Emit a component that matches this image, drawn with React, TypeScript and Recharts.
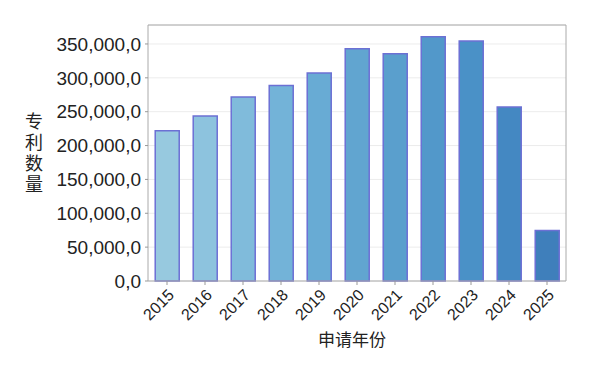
import React from 'react';
import { BarChart, Bar, XAxis, YAxis, CartesianGrid, Cell, Label } from 'recharts';

const years: string[] = ['2015', '2016', '2017', '2018', '2019', '2020', '2021', '2022', '2023', '2024', '2025'];
const patentCounts: number[] = [222000, 243500, 271800, 288500, 307000, 343000, 335500, 360500, 354500, 257000, 74500];
const yTicks: number[] = [0, 50000, 100000, 150000, 200000, 250000, 300000, 350000];

const barColors = [
  '#97c9df', '#8dc3de', '#80bbdb', '#73b3d8', '#68abd4', '#61a5d0',
  '#5a9fcd', '#5298ca', '#4a91c7', '#4488c2', '#3f7fbb',
];

const FONT = '"Liberation Sans", Arial, "Noto Sans CJK SC", sans-serif';
const CJK = '"Noto Sans CJK SC", sans-serif';

const data = years.map((year, i) => ({ year, count: patentCounts[i] }));

// 0,0 / 350,000,0 style labels
const fmt = (v: number) => v.toLocaleString('en-US') + ',0';

// stacked CJK title, one text in vertical writing mode
const VerticalLabel = ({ viewBox }: any) => {
  const cy = viewBox.y + viewBox.height / 2;
  return (
    <text
      x={34}
      y={cy + 1}
      textAnchor="middle"
      fontFamily={CJK}
      fontSize={18}
      fill="#222"
      style={{ writingMode: 'vertical-rl', letterSpacing: 3 }}
    >
      专利数量
    </text>
  );
};

const App: React.FC = () => {
  return (
    <div style={{ position: 'absolute', left: 0, top: 0, width: 589, height: 373, background: '#fff' }}>
      <BarChart
        width={589}
        height={373}
        data={data}
        margin={{ top: 24, right: 22, bottom: 0, left: 0 }}
        barCategoryGap="19%"
      >
        <CartesianGrid vertical={false} stroke="#ececec" />
        <XAxis
          dataKey="year"
          height={92}
          interval={0}
          tickLine={{ stroke: '#999' }}
          tickSize={4}
          tickMargin={3}
          axisLine={{ stroke: '#aaa' }}
          angle={-45}
          textAnchor="end"
          tick={{ fontSize: 16, fill: '#222', fontFamily: FONT }}
        >
          <Label
            value="申请年份"
            position="insideBottom"
            offset={27}
            dx={-5}
            style={{ fontSize: 17, fill: '#222', fontFamily: CJK }}
          />
        </XAxis>
        <XAxis xAxisId="top" orientation="top" dataKey="year" height={1} tick={false} tickLine={false} axisLine={{ stroke: '#aaa' }} />
        <YAxis
          width={148}
          domain={[0, 378000]}
          ticks={yTicks}
          tickFormatter={fmt}
          tickLine={{ stroke: '#999' }}
          tickSize={3}
          tickMargin={4}
          axisLine={{ stroke: '#aaa' }}
          tick={{ fontSize: 19, fill: '#222', fontFamily: FONT }}
          label={<VerticalLabel />}
        />
        <YAxis yAxisId="right" orientation="right" width={1} domain={[0, 378000]} tick={false} tickLine={false} axisLine={{ stroke: '#aaa' }} />
        <Bar dataKey="count" stroke="#6c70d4" strokeWidth={1.5} isAnimationActive={false}>
          {data.map((d, i) => (
            <Cell key={d.year} fill={barColors[i]} />
          ))}
        </Bar>
      </BarChart>
    </div>
  );
};

export default App;
